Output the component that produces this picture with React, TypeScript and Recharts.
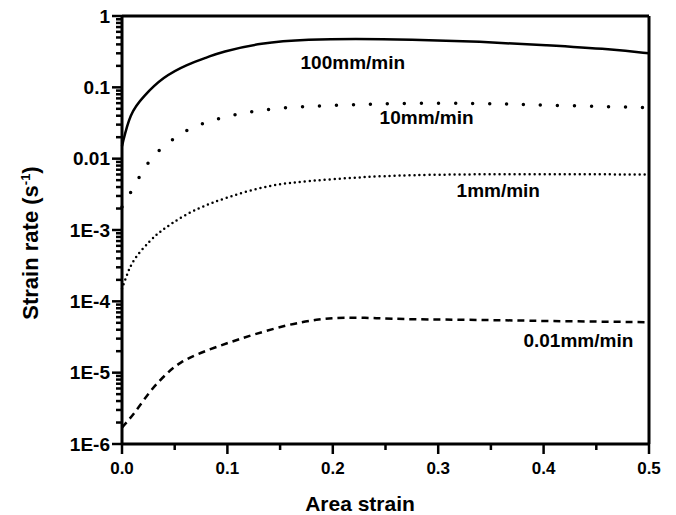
import React from "react";
import {
  LineChart,
  Line,
  XAxis,
  YAxis,
  ReferenceDot,
  ReferenceLine,
} from "recharts";

// Strain rate vs area strain, four crosshead speeds
const strain100 = [0, 0.0076, 0.02, 0.039, 0.062, 0.083, 0.093, 0.131, 0.178, 0.22, 0.273, 0.34, 0.403, 0.466, 0.5];
const rate100 = [0.015, 0.044, 0.074, 0.14, 0.21, 0.27, 0.31, 0.42, 0.47, 0.48, 0.47, 0.437, 0.39, 0.34, 0.3];

const strain10 = [0, 0.0095, 0.019, 0.029, 0.046, 0.063, 0.079, 0.095, 0.126, 0.159, 0.207, 0.257, 0.34, 0.403, 0.5];
const rate10 = [0.0021, 0.0036, 0.0065, 0.011, 0.018, 0.026, 0.032, 0.038, 0.047, 0.053, 0.056, 0.06, 0.06, 0.056, 0.052];

const strain1 = [0, 0.004, 0.01, 0.027, 0.036, 0.048, 0.067, 0.1, 0.14, 0.178, 0.226, 0.27, 0.35, 0.5];
const rate1 = [1.5e-4, 2.2e-4, 3.8e-4, 7.2e-4, 9.5e-4, 1.26e-3, 1.9e-3, 2.9e-3, 4.3e-3, 4.9e-3, 5.5e-3, 5.9e-3, 6.1e-3, 6.0e-3];

const strain001 = [0, 0.012, 0.027, 0.043, 0.055, 0.074, 0.1, 0.124, 0.157, 0.185, 0.21, 0.242, 0.27, 0.34, 0.4, 0.5];
const rate001 = [1.7e-6, 2.7e-6, 5.7e-6, 1.0e-5, 1.4e-5, 1.9e-5, 2.6e-5, 3.4e-5, 4.7e-5, 5.6e-5, 6.0e-5, 5.8e-5, 5.6e-5, 5.5e-5, 5.3e-5, 5.1e-5];

const yMajorTicks = [1e-6, 1e-5, 1e-4, 1e-3, 0.01, 0.1, 1];
const yTickLabels = ["1E-6", "1E-5", "1E-4", "1E-3", "0.01", "0.1", "1"];
const xTicks = [0, 0.05, 0.1, 0.15, 0.2, 0.25, 0.3, 0.35, 0.4, 0.45, 0.5];
const xTickLabels = ["0.0", "", "0.1", "", "0.2", "", "0.3", "", "0.4", "", "0.5"];

const curveLabels = [
  { x: 0.219, y: 0.226, text: "100mm/min" },
  { x: 0.289, y: 0.0384, text: "10mm/min" },
  { x: 0.357, y: 0.00363, text: "1mm/min" },
  { x: 0.433, y: 2.87e-5, text: "0.01mm/min" },
];

const zip = (xs: number[], ys: number[]) => xs.map((x, i) => ({ x, y: ys[i] }));

// minor log ticks 2..9 in each decade
const yMinorTicks: number[] = [];
for (let d = 0; d < yMajorTicks.length - 1; d++) {
  for (let m = 2; m <= 9; m++) yMinorTicks.push(yMajorTicks[d] * m);
}
const yAllTicks = [...yMajorTicks, ...yMinorTicks].sort((a, b) => a - b);

const FONT = "Arial, 'Liberation Sans', Helvetica, sans-serif";
const INK = "#000";

const YTick = (props: any) => {
  const x = Number(props.x);
  const y = Number(props.y);
  const v = props.payload.value;
  const idx = yMajorTicks.findIndex((t) => Math.abs(t - v) / t < 1e-6);
  const major = idx >= 0;
  return (
    <g>
      <path d={`M${x - (major ? 10 : 6)},${y}H${x}`} stroke={INK} strokeWidth={2.5} fill="none" />
      {major && (
        <text x={x - 12} y={y + 6.5} textAnchor="end" fontFamily={FONT} fontWeight="bold" fontSize={19} fill="#000">
          {yTickLabels[idx]}
        </text>
      )}
    </g>
  );
};

const XTick = (props: any) => {
  const x = Number(props.x);
  const y = Number(props.y);
  const idx = xTicks.findIndex((t) => Math.abs(t - props.payload.value) < 1e-9);
  const label = idx >= 0 ? xTickLabels[idx] : "";
  const major = label !== "";
  return (
    <g>
      <path d={`M${x},${y}V${y + (major ? 10 : 6)}`} stroke={INK} strokeWidth={2.5} fill="none" />
      {major && (
        <text x={x} y={y + 30} textAnchor="middle" fontFamily={FONT} fontWeight="bold" fontSize={17} fill="#000">
          {label}
        </text>
      )}
    </g>
  );
};

export default function App() {
  return (
    <div style={{ position: "absolute", left: 0, top: 0, width: 676, height: 515, background: "#fff" }}>
      <LineChart width={676} height={515} margin={{ top: 16, right: 27, bottom: 0, left: 0 }}>
        <XAxis
          dataKey="x"
          type="number"
          domain={[0, 0.5]}
          ticks={xTicks}
          interval={0}
          tick={<XTick />}
          tickLine={false}
          tickSize={0}
          tickMargin={0}
          height={71}
          axisLine={{ stroke: INK, strokeWidth: 3 }}
        />
        <YAxis
          dataKey="y"
          type="number"
          scale="log"
          domain={[1e-6, 1]}
          ticks={yAllTicks}
          interval={0}
          tick={<YTick />}
          tickLine={false}
          tickSize={0}
          tickMargin={0}
          width={122}
          axisLine={{ stroke: INK, strokeWidth: 3 }}
        />
        {/* frame: top and right edges */}
        <ReferenceLine y={1} stroke={INK} strokeWidth={3} />
        <ReferenceLine x={0.5} stroke={INK} strokeWidth={3} />
        <Line data={zip(strain100, rate100)} dataKey="y" type="basis" stroke="#000" strokeWidth={2.5} dot={false} isAnimationActive={false} />
        <Line data={zip(strain10, rate10)} dataKey="y" type="basis" stroke="#000" strokeWidth={3.5} strokeDasharray="0 17" strokeLinecap="round" dot={false} isAnimationActive={false} />
        <Line data={zip(strain1, rate1)} dataKey="y" type="basis" stroke="#000" strokeWidth={2.5} strokeDasharray="0 5" strokeLinecap="round" dot={false} isAnimationActive={false} />
        <Line data={zip(strain001, rate001)} dataKey="y" type="basis" stroke="#000" strokeWidth={2.5} strokeDasharray="7 5" dot={false} isAnimationActive={false} />
        {curveLabels.map((c) => (
          <ReferenceDot
            key={c.text}
            x={c.x}
            y={c.y}
            r={0}
            stroke="none"
            label={{ value: c.text, position: "center", fontFamily: FONT, fontWeight: "bold", fontSize: 19, fill: "#000" }}
          />
        ))}
      </LineChart>
      <div
        style={{
          position: "absolute",
          left: 0,
          top: 493,
          width: 720,
          textAlign: "center",
          fontFamily: FONT,
          fontWeight: "bold",
          fontSize: 21,
          lineHeight: "21px",
        }}
      >
        Area strain
      </div>
      <div
        style={{
          position: "absolute",
          left: 31,
          top: 243,
          transform: "translate(-50%, -50%) rotate(-90deg)",
          whiteSpace: "nowrap",
          fontFamily: FONT,
          fontWeight: "bold",
          fontSize: 22,
          lineHeight: "22px",
        }}
      >
        Strain rate (s<sup style={{ fontSize: 13, lineHeight: 0 }}>-1</sup>)
      </div>
    </div>
  );
}
